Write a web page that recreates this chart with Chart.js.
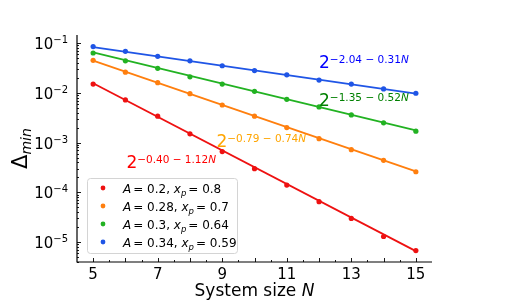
<!DOCTYPE html>
<html><head><meta charset="utf-8">
<script src="https://cdn.jsdelivr.net/npm/chart.js@4/dist/chart.umd.min.js"></script>
<style>html,body{margin:0;padding:0;background:#fff}canvas{display:block}</style>
</head><body>
<div style="width:507px;height:300px"><canvas id="c" width="507" height="300"></canvas></div>
<script>
// ---- data ----
const sizesN = [5, 6, 7, 8, 9, 10, 11, 12, 13, 14, 15];
const gapRed    = [0.015, 0.0072, 0.0034, 0.0015, 0.00066, 0.00030, 0.00014, 0.000065, 0.000030, 0.000013, 0.0000068];
const gapOrange = [0.045, 0.026, 0.016, 0.0096, 0.0057, 0.0034, 0.0020, 0.0012, 0.00072, 0.00044, 0.00026];
const gapGreen  = [0.063, 0.044, 0.031, 0.021, 0.015, 0.0107, 0.0074, 0.0052, 0.0036, 0.0025, 0.0017];
const gapBlue   = [0.085, 0.068, 0.054, 0.044, 0.035, 0.028, 0.023, 0.018, 0.015, 0.012, 0.0098];
const fitN = [5, 15];
const fitRed    = [0.0156, 0.0000066];
const fitOrange = [0.0445, 0.000264];
const fitGreen  = [0.0647, 0.00176];
const fitBlue   = [0.0831, 0.00968];
const legendA  = ['0.2', '0.28', '0.3', '0.34'];
const legendXp = ['0.8', '0.7', '0.64', '0.59'];
const fitTexts = ['\u22120.40 \u2212 1.12', '\u22120.79 \u2212 0.74', '\u22121.35 \u2212 0.52', '\u22122.04 \u2212 0.31'];
const xTickLabels = [5, 7, 9, 11, 13, 15];
const yTickExps = [-1, -2, -3, -4, -5];

// ---- styles ----
const lineColors = ['#ee1111', '#ff7f0e', '#22b222', '#1f55e6'];
const textColors = ['#ff0000', '#ffa500', '#008000', '#0000ff'];
const annotPos = [[6.03, 3.1e-4], [8.82, 8.1e-4], [12.0, 5.4e-3], [12.0, 3.16e-2]];
const FONT = '"DejaVu Sans"';

const seriesVals = [gapRed, gapOrange, gapGreen, gapBlue];
const fitVals = [fitRed, fitOrange, fitGreen, fitBlue];
const datasets = [];
fitVals.forEach((f, i) => datasets.push({
  data: fitN.map((n, k) => ({x: n, y: f[k]})),
  showLine: true, borderColor: lineColors[i], borderWidth: 1.8, pointRadius: 0, order: 10
}));
seriesVals.forEach((s, i) => datasets.push({
  data: sizesN.map((n, k) => ({x: n, y: s[k]})),
  showLine: false, backgroundColor: lineColors[i], borderColor: lineColors[i],
  pointRadius: 2.6, pointBorderWidth: 0, order: 1
}));

function font(size, italic) { return (italic ? 'italic ' : '') + size + 'px ' + FONT; }
function runsWidth(ctx, runs) {
  let w = 0;
  runs.forEach(r => { ctx.font = font(r.size, r.italic); w += ctx.measureText(r.t).width + (r.gap || 0); });
  return w;
}
function drawRuns(ctx, x, base, runs, color) {
  ctx.fillStyle = color; ctx.textBaseline = 'alphabetic'; ctx.textAlign = 'left';
  runs.forEach(r => {
    ctx.font = font(r.size, r.italic);
    ctx.fillText(r.t, x, base - (r.dy || 0));
    x += ctx.measureText(r.t).width + (r.gap || 0);
  });
  return x;
}

const decor = {
  id: 'decor',
  afterDraw(chart) {
    const ctx = chart.ctx, xs = chart.scales.x, ys = chart.scales.y, a = chart.chartArea;
    ctx.save();
    // axes spines
    ctx.strokeStyle = '#000'; ctx.lineWidth = 1.2;
    ctx.beginPath();
    ctx.moveTo(a.left, a.top); ctx.lineTo(a.left, a.bottom); ctx.lineTo(a.right, a.bottom);
    ctx.stroke();
    // x ticks (inward)
    ctx.lineWidth = 0.9;
    for (let v = 5; v <= 15.001; v += 0.5) {
      const px = Math.round(xs.getPixelForValue(v)) + 0.5;
      const len = (Math.abs(v - Math.round(v)) < 0.01) ? 4 : 2;
      ctx.beginPath(); ctx.moveTo(px, a.bottom); ctx.lineTo(px, a.bottom - len); ctx.stroke();
    }
    // y ticks (inward, log)
    for (let e = -6; e <= -1; e++) {
      for (let m = 1; m <= 9; m++) {
        const v = m * Math.pow(10, e);
        if (v < ys.min || v > ys.max) continue;
        const py = Math.round(ys.getPixelForValue(v)) + 0.5;
        const len = m === 1 ? 4 : 2;
        ctx.beginPath(); ctx.moveTo(a.left, py); ctx.lineTo(a.left + len, py); ctx.stroke();
      }
    }
    // x tick labels
    ctx.fillStyle = '#000'; ctx.font = font(15, false); ctx.textAlign = 'center'; ctx.textBaseline = 'alphabetic';
    xTickLabels.forEach(v => ctx.fillText(String(v), xs.getPixelForValue(v), a.bottom + 17));
    // y tick labels 10^e
    yTickExps.forEach(e => {
      const py = ys.getPixelForValue(Math.pow(10, e));
      const runs = [{t: '10', size: 15}, {t: '\u2212' + Math.abs(e), size: 10, dy: 6}];
      const w = runsWidth(ctx, runs);
      drawRuns(ctx, a.left - 9 - w, py + 6, runs, '#000');
    });
    // axis titles
    const xt = [{t: 'System size ', size: 17}, {t: 'N', size: 17, italic: true}];
    const xw = runsWidth(ctx, xt);
    drawRuns(ctx, (a.left + a.right) / 2 - xw / 2, 296, xt, '#000');
    ctx.save();
    ctx.translate(27, (a.top + a.bottom) / 2);
    ctx.rotate(-Math.PI / 2);
    const yt = [{t: '\u0394', size: 21}, {t: 'min', size: 14, italic: true, dy: -4}];
    const yw = runsWidth(ctx, yt);
    drawRuns(ctx, -yw / 2, 0, yt, '#000');
    ctx.restore();
    // fit annotations
    fitTexts.forEach((t, i) => {
      const px = xs.getPixelForValue(annotPos[i][0]);
      const py = ys.getPixelForValue(annotPos[i][1]);
      drawRuns(ctx, px, py, [{t: '2', size: 17}, {t: t, size: 10.5, dy: 5}, {t: 'N', size: 10.5, italic: true, dy: 5}], textColors[i]);
    });
    // legend
    const lx = a.left + 10, ly = a.bottom - 84, lw = 150, lh = 75;
    ctx.fillStyle = 'rgba(255,255,255,0.85)'; ctx.strokeStyle = '#d4d4d4'; ctx.lineWidth = 1;
    ctx.beginPath(); ctx.roundRect(lx + 0.5, ly + 0.5, lw, lh, 3); ctx.fill(); ctx.stroke();
    legendA.forEach((A, i) => {
      const ry = ly + 10 + i * 18;
      ctx.fillStyle = lineColors[i];
      ctx.beginPath(); ctx.arc(lx + 16, ry, 2.4, 0, Math.PI * 2); ctx.fill();
      drawRuns(ctx, lx + 36, ry + 4.5, [
        {t: 'A', size: 12, italic: true, gap: 2}, {t: '= ' + A + ', ', size: 12},
        {t: 'x', size: 12, italic: true}, {t: 'p', size: 8.5, italic: true, dy: -3, gap: 2},
        {t: '= ' + legendXp[i], size: 12}], '#000');
    });
    ctx.restore();
  }
};

new Chart(document.getElementById('c'), {
  type: 'scatter',
  data: {datasets},
  options: {
    responsive: false, animation: false, devicePixelRatio: 1,
    layout: {padding: {left: 77, right: 75, top: 35, bottom: 38}},
    plugins: {legend: {display: false}, tooltip: {enabled: false}},
    scales: {
      x: {type: 'linear', min: 4.5, max: 15.5, display: false},
      y: {type: 'logarithmic', min: 4e-6, max: 0.145, display: false}
    }
  },
  plugins: [decor]
});
</script>
</body></html>
